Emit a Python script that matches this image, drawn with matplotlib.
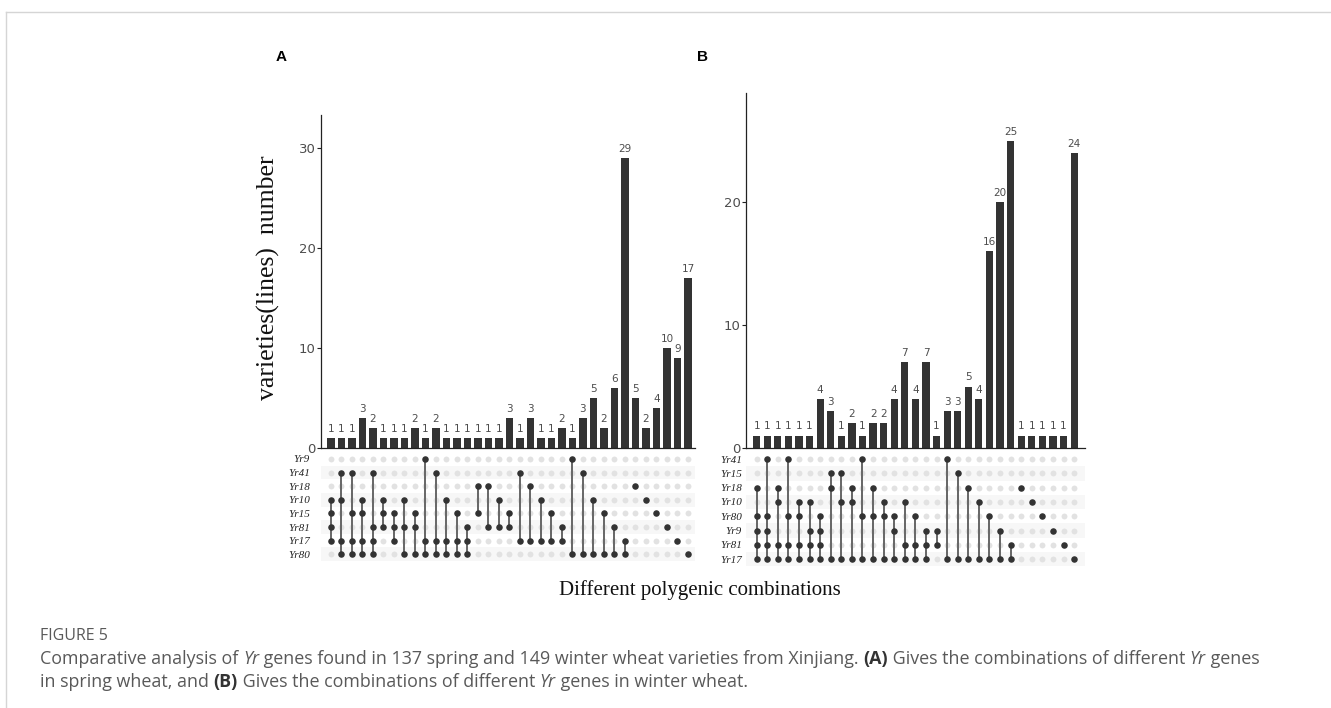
import matplotlib
matplotlib.use("Agg")
import matplotlib.pyplot as plt
from matplotlib.lines import Line2D
import numpy as np

# ---------------- data ----------------
sets_A = ["Yr9", "Yr41", "Yr18", "Yr10", "Yr15", "Yr81", "Yr17", "Yr80"]
combos_A = [
    ["Yr10", "Yr15", "Yr81", "Yr17"],
    ["Yr41", "Yr10", "Yr17", "Yr80"],
    ["Yr41", "Yr15", "Yr17", "Yr80"],
    ["Yr10", "Yr15", "Yr17", "Yr80"],
    ["Yr41", "Yr81", "Yr17", "Yr80"],
    ["Yr10", "Yr15", "Yr81"],
    ["Yr15", "Yr81", "Yr17"],
    ["Yr10", "Yr81", "Yr80"],
    ["Yr15", "Yr81", "Yr80"],
    ["Yr9", "Yr17", "Yr80"],
    ["Yr41", "Yr17", "Yr80"],
    ["Yr10", "Yr17", "Yr80"],
    ["Yr15", "Yr17", "Yr80"],
    ["Yr81", "Yr17", "Yr80"],
    ["Yr18", "Yr15"],
    ["Yr18", "Yr81"],
    ["Yr10", "Yr81"],
    ["Yr15", "Yr81"],
    ["Yr41", "Yr17"],
    ["Yr18", "Yr17"],
    ["Yr10", "Yr17"],
    ["Yr15", "Yr17"],
    ["Yr81", "Yr17"],
    ["Yr9", "Yr80"],
    ["Yr41", "Yr80"],
    ["Yr10", "Yr80"],
    ["Yr15", "Yr80"],
    ["Yr81", "Yr80"],
    ["Yr17", "Yr80"],
    ["Yr18"],
    ["Yr10"],
    ["Yr15"],
    ["Yr81"],
    ["Yr17"],
    ["Yr80"],
]
counts_A = [1, 1, 1, 3, 2, 1, 1, 1, 2, 1, 2, 1, 1, 1, 1, 1, 1, 3, 1, 3,
            1, 1, 2, 1, 3, 5, 2, 6, 29, 5, 2, 4, 10, 9, 17]
yticks_A = [0, 10, 20, 30]

sets_B = ["Yr41", "Yr15", "Yr18", "Yr10", "Yr80", "Yr9", "Yr81", "Yr17"]
combos_B = [
    ["Yr18", "Yr80", "Yr9", "Yr81", "Yr17"],
    ["Yr41", "Yr80", "Yr9", "Yr81", "Yr17"],
    ["Yr18", "Yr10", "Yr81", "Yr17"],
    ["Yr41", "Yr80", "Yr81", "Yr17"],
    ["Yr10", "Yr80", "Yr81", "Yr17"],
    ["Yr10", "Yr9", "Yr81", "Yr17"],
    ["Yr80", "Yr9", "Yr81", "Yr17"],
    ["Yr15", "Yr18", "Yr17"],
    ["Yr15", "Yr10", "Yr17"],
    ["Yr18", "Yr10", "Yr17"],
    ["Yr41", "Yr80", "Yr17"],
    ["Yr18", "Yr80", "Yr17"],
    ["Yr10", "Yr80", "Yr17"],
    ["Yr80", "Yr9", "Yr17"],
    ["Yr10", "Yr81", "Yr17"],
    ["Yr80", "Yr81", "Yr17"],
    ["Yr9", "Yr81", "Yr17"],
    ["Yr9", "Yr81"],
    ["Yr41", "Yr17"],
    ["Yr15", "Yr17"],
    ["Yr18", "Yr17"],
    ["Yr10", "Yr17"],
    ["Yr80", "Yr17"],
    ["Yr9", "Yr17"],
    ["Yr81", "Yr17"],
    ["Yr18"],
    ["Yr10"],
    ["Yr80"],
    ["Yr9"],
    ["Yr81"],
    ["Yr17"],
]
counts_B = [1, 1, 1, 1, 1, 1, 4, 3, 1, 2, 1, 2, 2, 4, 7, 4, 7, 1, 3, 3,
            5, 4, 16, 20, 25, 1, 1, 1, 1, 1, 24]
yticks_B = [0, 10, 20]

# ---------------- layout helpers ----------------
W, H = 1331, 708
fig = plt.figure(figsize=(W / 100, H / 100), dpi=100)
fig.patch.set_facecolor("white")


def px_axes(left, top, right, bottom):
    return fig.add_axes([left / W, 1 - bottom / H, (right - left) / W, (bottom - top) / H])


def fx(x):
    return x / W


def fy(y):
    return 1 - y / H


TICK_COL = "#4d4d4d"
BAR_COL = "#333333"
LAB_COL = "#4d4d4d"


def draw_upset(bar_box, mat_box, xlim, ylim_bar, ylim_mat, sets, combos, counts, yticks, label_right):
    axb = px_axes(*bar_box)
    x = np.arange(len(counts))
    axb.bar(x, counts, width=0.68, color=BAR_COL)
    for xi, c in zip(x, counts):
        axb.text(xi, c + ylim_bar[1] * 0.012, str(c), ha="center", va="bottom",
                 fontsize=7.5, color=LAB_COL, family="DejaVu Sans")
    axb.set_xlim(*xlim)
    axb.set_ylim(*ylim_bar)
    axb.set_yticks(yticks)
    axb.set_xticks([])
    for s in ["top", "right"]:
        axb.spines[s].set_visible(False)
    for s in ["left", "bottom"]:
        axb.spines[s].set_color("#222222")
        axb.spines[s].set_linewidth(0.9)
    axb.tick_params(axis="y", colors=TICK_COL, labelsize=9.5, length=3, width=0.8, pad=1)
    axb.tick_params(axis="y", which="both", color="#222222")

    axm = px_axes(*mat_box)
    nrow = len(sets)
    for r in range(nrow):
        if r % 2 == 1:
            axm.axhspan(r - 0.5, r + 0.5, color="#f7f7f7", zorder=0, lw=0)
    xx, yy = np.meshgrid(x, np.arange(nrow))
    axm.scatter(xx.ravel(), yy.ravel(), s=18, color="#e2e2e2", zorder=1, lw=0)
    for xi, combo in enumerate(combos):
        rows = [sets.index(g) for g in combo]
        if len(rows) > 1:
            axm.plot([xi, xi], [min(rows), max(rows)], color="#666666", lw=1.4, zorder=2)
        axm.scatter([xi] * len(rows), rows, s=22, color=BAR_COL, zorder=3, lw=0)
    axm.set_xlim(*xlim)
    axm.set_ylim(*ylim_mat)
    axm.axis("off")
    for r, name in enumerate(sets):
        axm.text(label_right, r, name, transform=axm.get_yaxis_transform(),
                 ha="right", va="center_baseline", fontsize=8, style="italic",
                 family="Liberation Serif", color="#222222")
    return axb, axm


# Panel A
draw_upset(bar_box=(321, 115, 695, 448), mat_box=(321, 452, 695, 562),
           xlim=(-0.95, 34.67), ylim_bar=(0, 33.3), ylim_mat=(7.57, -0.51),
           sets=sets_A, combos=combos_A, counts=counts_A, yticks=yticks_A,
           label_right=-0.03)
# Panel B
draw_upset(bar_box=(746, 93, 1085, 448), mat_box=(746, 452, 1085, 566),
           xlim=(-1.01, 31.03), ylim_bar=(0, 28.9), ylim_mat=(7.47, -0.49),
           sets=sets_B, combos=combos_B, counts=counts_B, yticks=yticks_B,
           label_right=-0.012)

# Panel letters
fig.text(fx(281), fy(57), "A", fontsize=11, fontweight="bold", ha="center", va="center",
         family="Liberation Sans")
fig.text(fx(702), fy(57), "B", fontsize=11, fontweight="bold", ha="center", va="center",
         family="Liberation Sans")

# axis titles
fig.text(fx(268), fy(278), "varieties(lines)  number", rotation=90, fontsize=18.5,
         family="Liberation Serif", ha="center", va="center", color="#111111")
fig.text(fx(700), fy(590), "Different polygenic combinations", fontsize=15,
         family="Liberation Serif", ha="center", va="center", color="#111111")

# frame lines
fig.add_artist(Line2D([fx(6), 1], [fy(12), fy(12)], color="#d5d5d5", lw=1))
fig.add_artist(Line2D([fx(6), fx(6)], [fy(12), 0], color="#d5d5d5", lw=1))

# caption
CAP_COL = "#595959"
CAP_FONT = "Open Sans"
fig.text(fx(40), fy(640), "FIGURE 5", fontsize=11.5, color=CAP_COL, family=CAP_FONT,
         va="baseline", ha="left")

renderer = fig.canvas.get_renderer()


def rich_line(x0, ybase, pieces, size):
    x = x0
    for txt, style in pieces:
        kw = dict(fontsize=size, color=CAP_COL, family=CAP_FONT, va="baseline", ha="left")
        if style == "i":
            kw["style"] = "italic"
        elif style == "b":
            kw["fontweight"] = "bold"
            kw["color"] = "#333333"
        t = fig.text(fx(x), fy(ybase), txt, **kw)
        bb = t.get_window_extent(renderer=renderer)
        x += bb.width


line1 = [("Comparative analysis of ", ""), ("Yr", "i"),
         (" genes found in 137 spring and 149 winter wheat varieties from Xinjiang. ", ""),
         ("(A)", "b"), (" Gives the combinations of different ", ""), ("Yr", "i"), (" genes", "")]
line2 = [("in spring wheat, and ", ""), ("(B)", "b"),
         (" Gives the combinations of different ", ""), ("Yr", "i"), (" genes in winter wheat.", "")]
rich_line(40, 664, line1, 12.9)
rich_line(40, 687, line2, 12.9)

fig.savefig("out.png", dpi=100, facecolor="white")
